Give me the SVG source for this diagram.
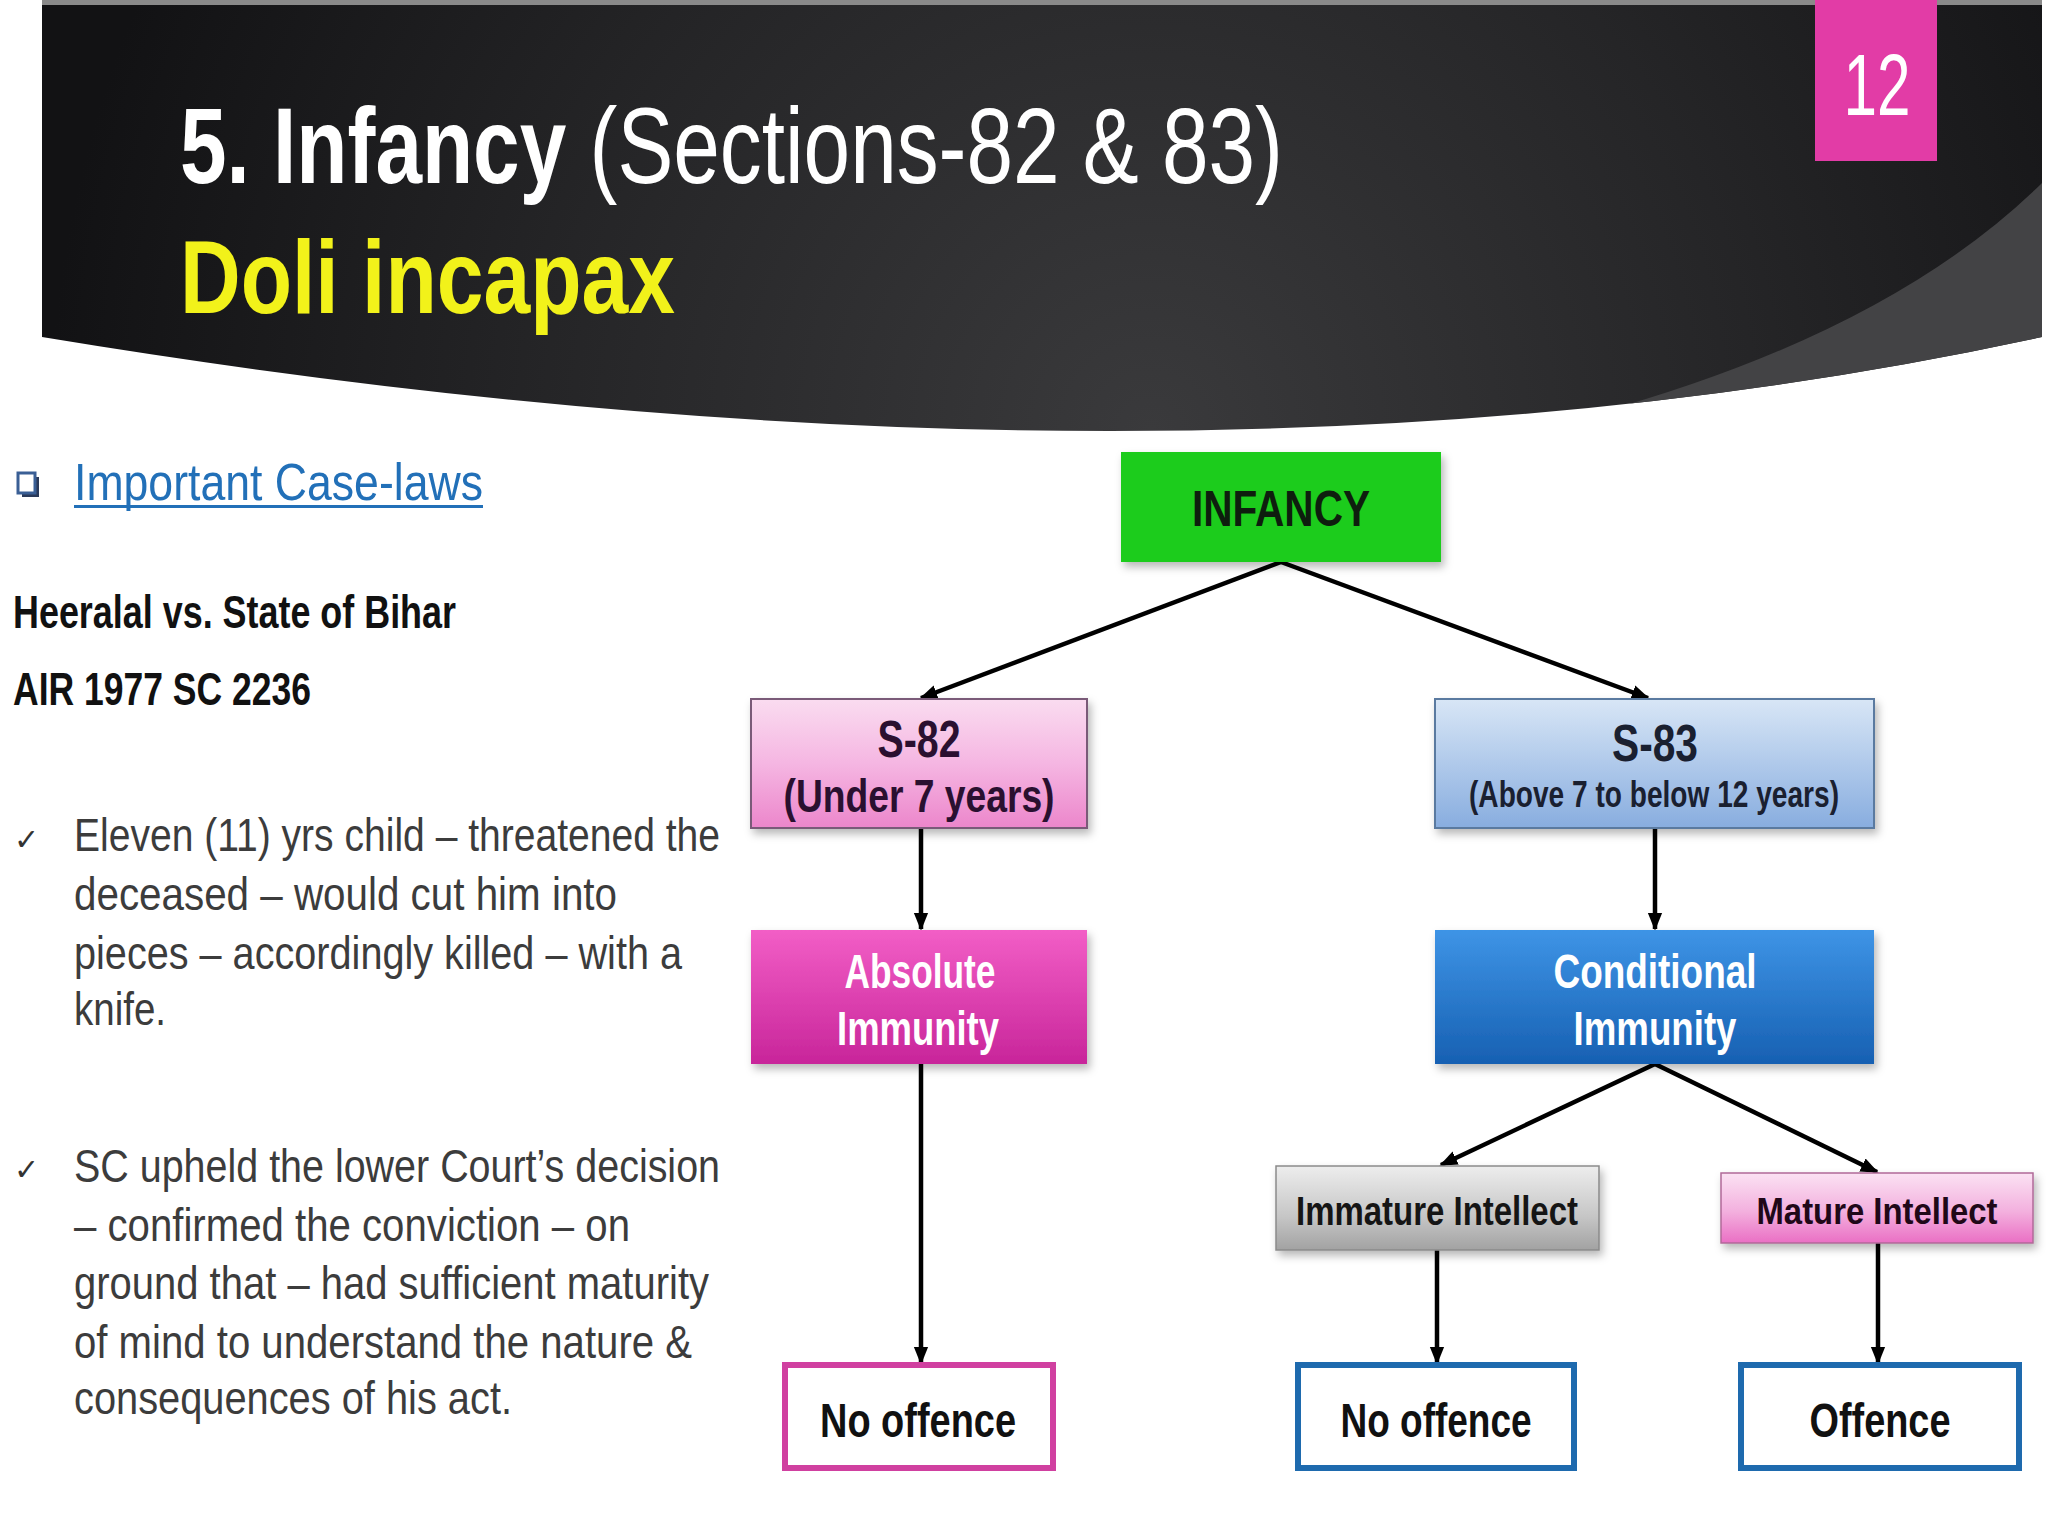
<svg xmlns="http://www.w3.org/2000/svg" width="2048" height="1536" viewBox="0 0 2048 1536">
<defs>
<style>
.t{font-family:"Liberation Sans Narrow","Liberation Sans",Arial,sans-serif}
.b{font-weight:bold}
.body{font-size:46px;fill:#3c3c3c}
.node{font-weight:bold;text-anchor:middle}
.conn{stroke:#000;stroke-width:4.5;fill:none;marker-end:url(#arr)}
</style>
<marker id="arr" viewBox="0 0 10 10" refX="9" refY="5" markerWidth="4" markerHeight="4" orient="auto" markerUnits="strokeWidth">
<path d="M0,1 L10,5 L0,9 Z" fill="#000"/>
</marker>
<radialGradient id="hdr" cx="1150" cy="430" r="1100" gradientUnits="userSpaceOnUse">
<stop offset="0" stop-color="#3a3a3c"/>
<stop offset="0.55" stop-color="#252527"/>
<stop offset="1" stop-color="#121214"/>
</radialGradient>
<clipPath id="hclip">
<path d="M42,0 H2042 V337 Q1178,525 42,337 Z"/>
</clipPath>
<linearGradient id="gPink" x1="0" y1="0" x2="0" y2="1">
<stop offset="0" stop-color="#FADCF0"/>
<stop offset="0.5" stop-color="#F5B6E2"/>
<stop offset="1" stop-color="#EC86CB"/>
</linearGradient>
<linearGradient id="gMag" x1="0" y1="0" x2="0" y2="1">
<stop offset="0" stop-color="#F25EC6"/>
<stop offset="1" stop-color="#C8259A"/>
</linearGradient>
<linearGradient id="gLBlue" x1="0" y1="0" x2="0" y2="1">
<stop offset="0" stop-color="#D8E6F6"/>
<stop offset="1" stop-color="#88ADDF"/>
</linearGradient>
<linearGradient id="gBlue" x1="0" y1="0" x2="0" y2="1">
<stop offset="0" stop-color="#3E94E6"/>
<stop offset="1" stop-color="#1760B2"/>
</linearGradient>
<linearGradient id="gGray" x1="0" y1="0" x2="0" y2="1">
<stop offset="0" stop-color="#EDEDED"/>
<stop offset="0.6" stop-color="#C6C6C6"/>
<stop offset="1" stop-color="#A2A2A2"/>
</linearGradient>
<linearGradient id="gMPink" x1="0" y1="0" x2="0" y2="1">
<stop offset="0" stop-color="#FBE2F3"/>
<stop offset="0.55" stop-color="#F3B0DE"/>
<stop offset="1" stop-color="#EA6FC4"/>
</linearGradient>
<filter id="sh" x="-10%" y="-10%" width="125%" height="135%">
<feDropShadow dx="3" dy="5" stdDeviation="4" flood-color="#000" flood-opacity="0.28"/>
</filter>
</defs>

<rect width="2048" height="1536" fill="#ffffff"/>

<!-- header -->
<g id="header">
<g clip-path="url(#hclip)">
<rect x="42" y="0" width="2000" height="460" fill="url(#hdr)"/>
<path d="M1430,452 Q1850,372 2042,183 L2080,183 L2080,600 L1430,600 Z" fill="#434345"/>
</g>
<rect x="42" y="0" width="2000" height="5" fill="#8a8a8a"/>
<rect x="1815" y="0" width="122" height="161" fill="#E23CA6"/>
<text class="t" x="1877" y="115" font-size="88" fill="#ffffff" text-anchor="middle" textLength="67" lengthAdjust="spacingAndGlyphs">12</text>
<text class="t" x="180" y="183" font-size="108" fill="#ffffff" textLength="1103" lengthAdjust="spacingAndGlyphs"><tspan font-weight="bold">5. Infancy</tspan> (Sections-82 &amp; 83)</text>
<text class="t b" x="180" y="313" font-size="104" fill="#F2F21A" textLength="495" lengthAdjust="spacingAndGlyphs">Doli incapax</text>
</g>

<!-- left column -->
<g id="caselaws">
<rect x="22" y="477" width="17" height="20" fill="#2a3a5a"/>
<rect x="18" y="473" width="17" height="20" fill="#ffffff" stroke="#3A5F95" stroke-width="3"/>
<text class="t" x="74" y="500" font-size="52" fill="#2270B8" textLength="409" lengthAdjust="spacingAndGlyphs">Important Case-laws</text>
<rect x="74" y="505" width="409" height="3" fill="#2270B8"/>
<text class="t b" x="13" y="628" font-size="46" fill="#111111" textLength="443" lengthAdjust="spacingAndGlyphs">Heeralal vs. State of Bihar</text>
<text class="t b" x="13" y="705" font-size="46" fill="#111111" textLength="298" lengthAdjust="spacingAndGlyphs">AIR 1977 SC 2236</text>

<text x="14" y="850" font-family="DejaVu Sans,sans-serif" font-size="30" fill="#333333">✓</text>
<text class="t body" x="74" y="851" textLength="646" lengthAdjust="spacingAndGlyphs">Eleven (11) yrs child – threatened the</text>
<text class="t body" x="74" y="910" textLength="543" lengthAdjust="spacingAndGlyphs">deceased – would cut him into</text>
<text class="t body" x="74" y="969" textLength="608" lengthAdjust="spacingAndGlyphs">pieces – accordingly killed – with a</text>
<text class="t body" x="74" y="1025" textLength="92" lengthAdjust="spacingAndGlyphs">knife.</text>

<text x="14" y="1180" font-family="DejaVu Sans,sans-serif" font-size="30" fill="#333333">✓</text>
<text class="t body" x="74" y="1182" textLength="646" lengthAdjust="spacingAndGlyphs">SC upheld the lower Court’s decision</text>
<text class="t body" x="74" y="1241" textLength="556" lengthAdjust="spacingAndGlyphs">– confirmed the conviction – on</text>
<text class="t body" x="74" y="1299" textLength="635" lengthAdjust="spacingAndGlyphs">ground that – had sufficient maturity</text>
<text class="t body" x="74" y="1358" textLength="618" lengthAdjust="spacingAndGlyphs">of mind to understand the nature &amp;</text>
<text class="t body" x="74" y="1414" textLength="438" lengthAdjust="spacingAndGlyphs">consequences of his act.</text>
</g>

<!-- connectors -->
<g id="connectors">
<line class="conn" x1="1281" y1="562" x2="921" y2="698"/>
<line class="conn" x1="1281" y1="562" x2="1648" y2="698"/>
<line class="conn" x1="921" y1="828" x2="921" y2="929"/>
<line class="conn" x1="1655" y1="828" x2="1655" y2="929"/>
<line class="conn" x1="921" y1="1064" x2="921" y2="1363"/>
<line class="conn" x1="1655" y1="1064" x2="1441" y2="1165"/>
<line class="conn" x1="1655" y1="1064" x2="1877" y2="1172"/>
<line class="conn" x1="1437" y1="1250" x2="1437" y2="1363"/>
<line class="conn" x1="1878" y1="1243" x2="1878" y2="1363"/>
</g>

<!-- nodes -->
<g id="n-infancy">
<rect x="1121" y="452" width="320" height="110" fill="#1FCC1F" filter="url(#sh)"/>
<text class="t node" x="1281" y="526" font-size="50" fill="#0E1E0E" textLength="178" lengthAdjust="spacingAndGlyphs">INFANCY</text>
</g>
<g id="n-s82">
<rect x="751" y="699" width="336" height="129" fill="url(#gPink)" stroke="#7a5a78" stroke-width="2" filter="url(#sh)"/>
<text class="t node" x="919" y="757" font-size="52" fill="#2a1030" textLength="83" lengthAdjust="spacingAndGlyphs">S-82</text>
<text class="t node" x="919" y="812" font-size="46" fill="#2a1030" textLength="271" lengthAdjust="spacingAndGlyphs">(Under 7 years)</text>
</g>
<g id="n-s83">
<rect x="1435" y="699" width="439" height="129" fill="url(#gLBlue)" stroke="#5a7aa0" stroke-width="2" filter="url(#sh)"/>
<text class="t node" x="1655" y="761" font-size="52" fill="#1a2030" textLength="86" lengthAdjust="spacingAndGlyphs">S-83</text>
<text class="t node" x="1654" y="807" font-size="36" fill="#1a2030" textLength="370" lengthAdjust="spacingAndGlyphs">(Above 7 to below 12 years)</text>
</g>
<g id="n-absolute">
<rect x="751" y="930" width="336" height="134" fill="url(#gMag)" filter="url(#sh)"/>
<text class="t node" x="920" y="988" font-size="48" fill="#ffffff" textLength="151" lengthAdjust="spacingAndGlyphs">Absolute</text>
<text class="t node" x="918" y="1045" font-size="48" fill="#ffffff" textLength="162" lengthAdjust="spacingAndGlyphs">Immunity</text>
</g>
<g id="n-conditional">
<rect x="1435" y="930" width="439" height="134" fill="url(#gBlue)" filter="url(#sh)"/>
<text class="t node" x="1655" y="988" font-size="48" fill="#ffffff" textLength="203" lengthAdjust="spacingAndGlyphs">Conditional</text>
<text class="t node" x="1655" y="1045" font-size="48" fill="#ffffff" textLength="163" lengthAdjust="spacingAndGlyphs">Immunity</text>
</g>
<g id="n-immature">
<rect x="1276" y="1166" width="323" height="84" fill="url(#gGray)" stroke="#8a8a8a" stroke-width="1.5" filter="url(#sh)"/>
<text class="t node" x="1437" y="1225" font-size="40" fill="#151515" textLength="282" lengthAdjust="spacingAndGlyphs">Immature Intellect</text>
</g>
<g id="n-mature">
<rect x="1721" y="1173" width="312" height="70" fill="url(#gMPink)" stroke="#b06a98" stroke-width="1.5" filter="url(#sh)"/>
<text class="t node" x="1877" y="1224" font-size="37" fill="#200818" textLength="241" lengthAdjust="spacingAndGlyphs">Mature Intellect</text>
</g>
<g id="n-nooffence1">
<rect x="785" y="1365" width="268" height="103" fill="#ffffff" stroke="#D040A0" stroke-width="6"/>
<text class="t node" x="918" y="1437" font-size="48" fill="#111111" textLength="196" lengthAdjust="spacingAndGlyphs">No offence</text>
</g>
<g id="n-nooffence2">
<rect x="1298" y="1365" width="276" height="103" fill="#ffffff" stroke="#1E6AAE" stroke-width="6"/>
<text class="t node" x="1436" y="1437" font-size="48" fill="#111111" textLength="191" lengthAdjust="spacingAndGlyphs">No offence</text>
</g>
<g id="n-offence">
<rect x="1741" y="1365" width="278" height="103" fill="#ffffff" stroke="#1E6AAE" stroke-width="6"/>
<text class="t node" x="1880" y="1437" font-size="48" fill="#111111" textLength="141" lengthAdjust="spacingAndGlyphs">Offence</text>
</g>
</svg>
